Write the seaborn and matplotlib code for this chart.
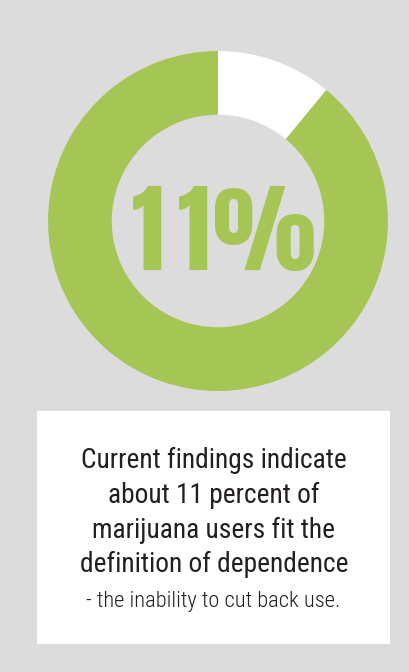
import matplotlib
matplotlib.use("Agg")
import matplotlib.pyplot as plt
from matplotlib.patches import Rectangle
import seaborn as sns

# ---- data ----
segments = ["Dependent", "Not dependent"]
shares = [11, 89]
big_label = "11%"
body_lines = ["Current findings indicate",
              "about 11 percent of",
              "marijuana users fit the",
              "definition of dependence"]
tail_line = "- the inability to cut back use."

GREEN = "#a5c655"
GRAY = "#dcdcdc"
TEXT = "#231f20"

sns.set_theme(style="white")
plt.rcParams['font.family'] = ['Roboto Condensed', 'DejaVu Sans']

W, H = 409, 672
fig = plt.figure(figsize=(W / 100, H / 100), dpi=100, facecolor=GRAY)

def fx(px):
    return px / W

def fy(py):
    return 1 - py / H

# donut
cx, cy, r = 218, 221, 170
ax = fig.add_axes([fx(cx - r), fy(cy + r), 2 * r / W, 2 * r / H])
ax.set_facecolor("none")
colors = ["white", GREEN]
ax.pie(shares, colors=colors, startangle=90, counterclock=False, radius=1,
       wedgeprops=dict(width=0.375, linewidth=0))
ax.set_xlim(-1, 1)
ax.set_ylim(-1, 1)
ax.set_aspect("auto")
ax.axis("off")

# big label, glyphs spaced like the reference
glyph_centers = [148, 194, 264]
for ch, gx in zip(big_label, glyph_centers):
    fig.text(fx(gx), fy(270), ch, color=GREEN, fontsize=70,
             family=['Anton', 'DejaVu Sans'], ha="center", va="baseline")

# white text box
fig.patches.append(Rectangle((fx(37), fy(644)), (390 - 37) / W, (644 - 411) / H,
                             transform=fig.transFigure, facecolor="white",
                             edgecolor="none", zorder=0))

baselines = [468, 503, 538, 572]
for line, b in zip(body_lines, baselines):
    fig.text(fx(214), fy(b), line, color=TEXT, fontsize=19.7, fontweight=400,
             ha="center", va="baseline")
fig.text(fx(213), fy(607), tail_line, color=TEXT, fontsize=16.2, fontweight=300,
         ha="center", va="baseline")

fig.savefig("out.png", dpi=100, facecolor=GRAY)
